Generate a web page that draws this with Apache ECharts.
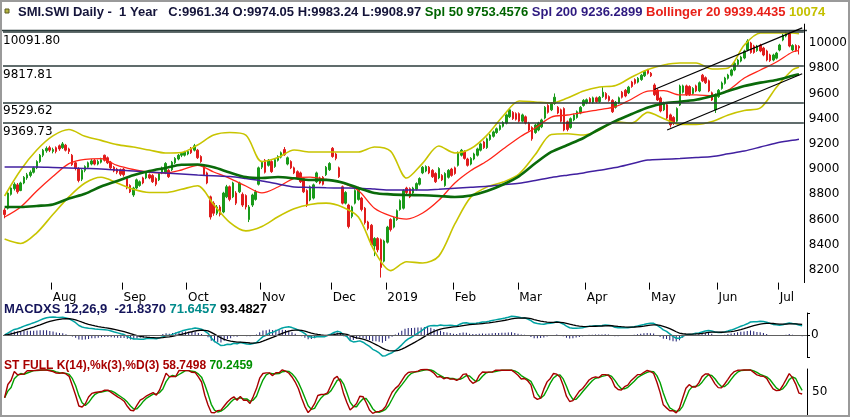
<!DOCTYPE html>
<html lang="en">
<head>
<meta charset="utf-8">
<title>SMI.SWI Daily</title>
<script src="https://cdn.jsdelivr.net/npm/echarts@6/dist/echarts.min.js"></script>
<style>
  html, body { margin: 0; padding: 0; background: #fff; }
  #chart { width: 850px; height: 417px; }
</style>
</head>
<body>
<div id="chart"></div>
<script>
// month labels and trading sessions shown per month (first one is July 2018, unlabeled)
const monthNames = ['', 'Aug', 'Sep', 'Oct', 'Nov', 'Dec', '2019', 'Feb', 'Mar', 'Apr', 'May', 'Jun', 'Jul'];
const monthDays = [15, 22, 20, 23, 22, 17, 21, 20, 21, 20, 21, 19, 7];

// daily candles [open, close, low, high]
const candles = [
  // Jul 2018
  [8675,8640,8610,8690],[8690,8810,8680,8820],[8800,8850,8790,8865],[8845,8880,8830,8895],[8875,8820,8805,8890],
  [8830,8890,8825,8900],[8890,8935,8880,8945],[8930,8955,8915,8970],[8950,8975,8935,8990],[8975,9010,8965,9020],
  [9010,9060,9000,9070],[9060,9110,9050,9120],[9110,9150,9095,9160],[9145,9165,9130,9180],[9170,9150,9135,9185],
  // Aug
  [9140,9155,9125,9170],[9170,9140,9125,9180],[9185,9160,9145,9195],[9170,9200,9160,9215],[9190,9150,9140,9200],
  [9160,9140,9120,9170],[9110,9035,9025,9120],[9050,9010,8990,9060],[9005,8910,8895,9015],[8920,8990,8905,9000],
  [8990,9020,8975,9030],[9015,9050,9005,9060],[9040,9065,9030,9080],[9070,9040,9030,9080],[9040,9060,9030,9075],
  [9055,9075,9045,9090],[9110,9070,9060,9115],[9090,9050,9040,9100],[9055,9010,9000,9065],[9015,8985,8975,9025],
  [9000,8975,8960,9010],[8995,8960,8945,9005],
  // Sep
  [9000,8955,8940,9010],[8925,8850,8840,8935],[8870,8820,8810,8880],[8795,8850,8780,8860],[8850,8915,8840,8925],
  [8870,8900,8860,8910],[8930,8890,8880,8940],[8930,8970,8920,8980],[8955,8930,8920,8965],[8950,8900,8890,8960],
  [8925,8880,8865,8935],[8915,8965,8905,8975],[8970,9010,8960,9020],[8970,9045,8960,9055],[8990,8940,8930,9000],
  [8995,9055,8985,9065],[9050,9085,9040,9095],[9080,9110,9070,9120],[9110,9125,9095,9135],[9110,9135,9100,9145],
  // Oct
  [9120,9140,9110,9150],[9165,9130,9120,9175],[9150,9185,9140,9200],[9150,9090,9080,9160],[9100,9060,9050,9110],
  [9030,8955,8945,9040],[8970,8890,8880,8980],[8780,8620,8600,8790],[8730,8650,8630,8745],[8650,8700,8635,8715],
  [8700,8640,8625,8715],[8660,8810,8650,8820],[8780,8860,8770,8875],[8860,8760,8745,8870],[8780,8890,8770,8900],
  [8810,8730,8715,8825],[8820,8890,8810,8900],[8800,8715,8700,8815],[8790,8700,8680,8800],[8600,8700,8580,8715],
  [8715,8795,8700,8805],[8760,8820,8750,8835],[8880,9010,8870,9020],
  // Nov
  [9015,9055,9000,9065],[9070,8975,8965,9080],[9030,9070,9020,9080],[9060,8980,8970,9070],[9020,9075,9010,9085],
  [9070,9100,9060,9110],[9095,9130,9085,9140],[9155,9115,9105,9175],[9040,9090,9030,9100],[9060,9010,9000,9070],
  [9010,8970,8960,9020],[8980,8930,8920,8990],[8970,8900,8890,8980],[8925,8820,8810,8935],[8830,8715,8700,8840],
  [8755,8860,8745,8870],[8770,8875,8760,8885],[8900,8970,8890,8980],[8930,8890,8880,8940],[8935,8880,8870,8945],
  [8955,9015,8945,9025],[8995,9045,8985,9055],
  // Dec
  [9165,9100,9090,9175],[9120,9085,9070,9130],[9010,8940,8930,9020],[8860,8730,8720,8870],[8730,8815,8720,8825],
  [8715,8545,8530,8725],[8625,8700,8610,8710],[8730,8830,8720,8840],[8760,8850,8750,8860],[8770,8680,8665,8780],
  [8690,8575,8560,8700],[8580,8530,8515,8590],[8555,8400,8390,8565],[8390,8450,8310,8460],[8450,8360,8340,8460],
  [8440,8220,8140,8450],[8270,8430,8260,8440],
  // Jan 2019
  [8420,8540,8410,8550],[8600,8520,8505,8610],[8540,8610,8530,8620],[8600,8670,8590,8680],[8680,8750,8670,8760],
  [8690,8830,8680,8840],[8850,8815,8800,8860],[8845,8780,8770,8855],[8810,8850,8800,8860],[8840,8885,8830,8895],
  [8880,8925,8870,8935],[8970,9015,8960,9025],[8985,9020,8975,9030],[9015,8970,8960,9025],[8990,8940,8930,9000],
  [8965,8900,8890,8975],[8930,9005,8920,9015],[8950,8915,8905,8960],[8870,8965,8860,8975],[8935,8990,8925,9000],
  [9000,8950,8940,9010],
  // Feb
  [9010,8965,8955,9020],[9030,9130,9020,9140],[9110,9150,9100,9160],[9140,9085,9075,9150],[9080,9030,9020,9090],
  [9040,9085,9030,9095],[9080,9120,9070,9130],[9110,9160,9100,9170],[9150,9200,9140,9210],[9215,9170,9160,9225],
  [9170,9240,9160,9250],[9235,9270,9225,9280],[9260,9295,9250,9305],[9290,9320,9280,9330],[9315,9345,9305,9355],
  [9340,9370,9330,9380],[9365,9430,9355,9440],[9415,9470,9405,9480],[9450,9400,9390,9460],[9440,9395,9385,9450],
  // Mar
  [9440,9380,9370,9450],[9380,9430,9370,9440],[9415,9365,9355,9425],[9365,9310,9300,9375],[9330,9240,9225,9340],
  [9290,9350,9280,9360],[9310,9365,9300,9375],[9335,9390,9325,9400],[9405,9490,9395,9500],[9505,9450,9440,9515],
  [9470,9520,9460,9530],[9520,9570,9510,9600],[9490,9445,9435,9500],[9470,9380,9370,9480],[9480,9310,9300,9490],
  [9375,9315,9300,9385],[9330,9400,9320,9410],[9390,9430,9380,9440],[9410,9455,9400,9465],[9445,9490,9435,9500],
  [9505,9545,9495,9555],
  // Apr
  [9525,9550,9515,9560],[9560,9530,9520,9570],[9530,9565,9520,9575],[9565,9535,9525,9575],[9535,9570,9525,9580],
  [9575,9610,9565,9650],[9600,9560,9550,9610],[9575,9545,9535,9585],[9545,9455,9445,9555],[9490,9530,9480,9540],
  [9525,9565,9515,9575],[9610,9570,9560,9620],[9625,9580,9570,9635],[9605,9650,9595,9660],[9690,9655,9645,9700],
  [9710,9680,9670,9720],[9690,9720,9680,9730],[9710,9745,9700,9755],[9740,9775,9730,9785],[9785,9760,9750,9795],
  // May
  [9760,9740,9730,9770],[9667,9590,9580,9680],[9627,9548,9540,9640],[9564,9461,9450,9575],[9470,9525,9460,9535],
  [9510,9405,9395,9520],[9430,9350,9330,9440],[9410,9365,9350,9420],[9380,9480,9370,9490],[9508,9659,9500,9670],
  [9610,9660,9600,9670],[9660,9590,9580,9670],[9655,9590,9580,9665],[9600,9640,9590,9650],[9660,9620,9610,9670],
  [9620,9685,9610,9695],[9745,9700,9690,9755],[9725,9685,9675,9735],[9700,9620,9610,9710],[9605,9548,9540,9615],
  [9470,9590,9445,9600],
  // Jun
  [9575,9625,9565,9635],[9640,9683,9630,9695],[9680,9722,9670,9732],[9720,9746,9710,9756],[9745,9786,9735,9796],
  [9786,9840,9776,9850],[9830,9865,9820,9875],[9857,9889,9847,9899],[9881,9937,9871,9947],[9945,10016,9935,10030],
  [10000,9925,9915,10010],[9976,9925,9915,9986],[9940,9975,9930,9985],[9984,9937,9927,9994],[9960,9905,9895,9970],
  [9937,9865,9855,9947],[9905,9860,9850,9915],[9865,9905,9855,9915],[9880,9920,9870,9930],
  // Jul
  [9944,9984,9934,9994],[10024,10063,10014,10073],[10055,10079,10045,10089],[10079,9976,9966,10092],
  [9945,9980,9935,9990],[9980,9940,9930,9990],[9974,9961,9909,9983]
];

// overlay lines every 5 sessions
const lineIdx = [0,5,10,15,20,25,30,35,40,45,50,55,60,65,70,75,80,85,90,95,
  100,105,110,115,120,125,130,135,140,145,150,155,160,165,170,175,180,185,190,195,
  200,205,210,215,220,225,230,235,240,245,247];
const sma20 = [8620,8700,8826,8941,9044,9078,9083,9029,8997,8975,
  8969,8993,9030,8977,8927,8866,8811,8858,8926,8937,
  8918,8891,8830,8690,8630,8604,8652,8753,8890,8989,
  9064,9159,9251,9326,9413,9429,9451,9472,9496,9556,
  9619,9622,9588,9588,9580,9627,9722,9786,9849,9929,9939];
const bbUpper = [8787,8993,9151,9263,9314,9260,9228,9194,9175,9151,
  9128,9132,9191,9270,9290,9270,9060,9092,9151,9136,
  9136,9136,9136,9175,9143,8929,9048,9183,9128,9163,
  9270,9421,9540,9532,9524,9564,9619,9651,9663,9730,
  9790,9826,9841,9841,9794,9802,9984,10079,10079,10079,10074];
const bbLower = [8445,8410,8495,8640,8780,8890,8935,8890,8840,8815,
  8815,8840,8868,8720,8578,8510,8545,8622,8685,8720,
  8730,8700,8620,8350,8195,8265,8255,8310,8565,8780,
  8858,8897,8962,9115,9275,9280,9270,9310,9375,9365,
  9450,9400,9355,9355,9378,9430,9465,9485,9650,9788,9808];
const sma50 = [8700,8700,8708,8720,8767,8804,8862,8906,8951,8985,
  9009,9034,9036,9014,8973,8937,8929,8937,8927,8914,
  8915,8894,8850,8811,8800,8795,8793,8787,8779,8791,
  8826,8878,8945,9046,9136,9191,9247,9318,9382,9437,
  9489,9523,9534,9550,9580,9619,9659,9686,9707,9740,9753];
const sma200 = [9017,9017,9017,9013,9009,9005,9001,8993,8985,8977,
  8969,8961,8953,8947,8941,8925,8906,8882,8858,8855,
  8852,8850,8849,8842,8834,8834,8834,8840,8848,8856,
  8864,8876,8888,8910,8933,8952,8970,8991,9012,9042,
  9072,9078,9084,9092,9100,9122,9144,9175,9207,9228,9236];

// horizontal support / resistance levels
const levels = [10091.80, 9817.81, 9529.62, 9369.73];
// channel lines [startIndex, startPrice, endIndex, endPrice]
const channelUpper = [202, 9631, 248, 10120];
const channelLower = [206, 9310, 248, 9756];

const FONT = 'DejaVu Sans';
const TFONT = 'Liberation Sans';
const PRICE_MIN = 8100;

// category axis: one entry per session plus one blank slot on the right
let days = [];
let monthStart = {};
let n = 0;
monthDays.forEach((cnt, m) => {
  if (m > 0) monthStart[n] = monthNames[m];
  for (let d = 0; d < cnt; d++) { days.push(m + '-' + d); n++; }
});
days.push('pad');
const isMonthStart = i => Object.prototype.hasOwnProperty.call(monthStart, i);
const monthStartIdx = Object.keys(monthStart).map(Number);

// indicators
const closes = candles.map(c => c[1]);
function ema(src, len) {
  const k = 2 / (len + 1);
  let out = [];
  src.forEach((v, i) => { out.push(i === 0 ? v : v * k + out[i - 1] * (1 - k)); });
  return out;
}
function sma(src, len) {
  return src.map((v, i) => {
    const s = src.slice(Math.max(0, i - len + 1), i + 1);
    return s.reduce((a, b) => a + b, 0) / s.length;
  });
}
const ema12 = ema(closes, 12);
const ema26 = ema(closes, 26);
const macd = closes.map((c, i) => ema12[i] - ema26[i]);
const signal = ema(macd, 9);
const hist = macd.map((v, i) => v - signal[i]);
const macdRange = Math.ceil(Math.max(...macd.map(Math.abs), ...signal.map(Math.abs)) * 1.05);

const rawK = closes.map((c, i) => {
  let lo = Infinity, hi = -Infinity;
  for (let j = Math.max(0, i - 13); j <= i; j++) {
    lo = Math.min(lo, candles[j][2]);
    hi = Math.max(hi, candles[j][3]);
  }
  return hi > lo ? 100 * (c - lo) / (hi - lo) : 50;
});
const stK = sma(rawK, 3);
const stD = sma(stK, 3);

function overlay(vals, color, width) {
  return {
    type: 'line', xAxisIndex: 0, yAxisIndex: 0,
    data: lineIdx.map((d, k) => [d, vals[k]]),
    smooth: 0.3, symbol: 'none', silent: true, z: 3,
    lineStyle: { color: color, width: width }
  };
}

const levelLine = { color: '#2b3b3b', width: 1.5, type: 'solid' };
const chanLine = { color: '#000', width: 1.2, type: 'solid' };

function rich(color, size) {
  return { color: color, fontSize: size, fontFamily: TFONT, lineHeight: size + 3 };
}

const chart = echarts.init(document.getElementById('chart'));
chart.setOption({
  animation: false,
  backgroundColor: '#fff',
  textStyle: { fontFamily: FONT },
  title: [
    {
      left: 18, top: 4, padding: 0,
      text: '{a|SMI.SWI Daily -  1 Year   C:9961.34 O:9974.05 H:9983.24 L:9908.97 }{g|Spl 50 9753.4576 }{p|Spl 200 9236.2899 }{r|Bollinger 20 9939.4435 }{y|10074}',
      textStyle: { rich: {
        a: rich('#14143a', 13), g: rich('#006400', 13), p: rich('#2e1a80', 13),
        r: rich('#e82018', 13), y: rich('#c4c000', 13)
      } }
    },
    {
      left: 4, top: 301, padding: 0,
      text: '{n|MACDXS 12,26,9  -21.8370 }{t|71.6457 }{k|93.4827}',
      textStyle: { rich: { n: rich('#14145a', 13), t: rich('#008b8b', 13), k: rich('#000', 13) } }
    },
    {
      left: 4, top: 358, padding: 0,
      text: '{r|ST FULL K(14),%k(3),%D(3) 58.7498 }{g|70.2459}',
      textStyle: { rich: { r: rich('#a80000', 12), g: rich('#009000', 12) } }
    }
  ],
  graphic: [
    { type: 'rect', silent: true, z: 100, shape: { x: 1, y: 1, width: 848, height: 415 },
      style: { fill: 'none', stroke: '#9a9a9a', lineWidth: 2 } },
    { type: 'line', silent: true, shape: { x1: 2, y1: 30.5, x2: 807, y2: 30.5 },
      style: { stroke: '#2b3b3b', lineWidth: 1.5 } },
    { type: 'rect', silent: true, shape: { x: 5, y: 9, width: 4, height: 4 },
      style: { fill: '#b4b440', stroke: '#5a5a20', lineWidth: 1 } }
  ],
  grid: [
    { left: 3, right: 43, top: 24.1, height: 258.5 },
    { left: 3, right: 43, top: 313, height: 44 },
    { left: 3, right: 43, top: 369, height: 46 }
  ],
  xAxis: [
    {
      type: 'category', gridIndex: 0, data: days, boundaryGap: true,
      axisLine: { show: false },
      axisTick: { show: false },
      axisLabel: {
        interval: isMonthStart,
        formatter: (v, i) => monthStart[i] || '',
        align: 'left', color: '#000', fontSize: 12, fontFamily: FONT, margin: 9
      },
      splitLine: { show: false }
    },
    { type: 'category', gridIndex: 1, data: days, show: false },
    { type: 'category', gridIndex: 2, data: days, show: false }
  ],
  yAxis: [
    {
      type: 'value', gridIndex: 0, position: 'right', min: PRICE_MIN, max: 10150, interval: 100,
      axisLine: { show: true, lineStyle: { color: '#000', width: 1 } },
      axisTick: { show: false }, splitLine: { show: false },
      axisLabel: { formatter: v => (v % 200 === 0 ? String(v) : ''), color: '#000', fontSize: 12, fontFamily: FONT, margin: 5 }
    },
    {
      type: 'value', gridIndex: 1, position: 'right', min: -macdRange, max: macdRange, interval: macdRange,
      axisLine: { show: true, lineStyle: { color: '#000', width: 1 } },
      axisTick: { show: true, length: 3, lineStyle: { color: '#000' } }, splitLine: { show: false },
      axisLabel: { formatter: v => (v === 0 ? '0' : ''), color: '#000', fontSize: 12, fontFamily: FONT, margin: 4 }
    },
    {
      type: 'value', gridIndex: 2, position: 'right', min: 0, max: 100, interval: 50,
      axisLine: { show: true, lineStyle: { color: '#000', width: 1 } },
      axisTick: { show: false }, splitLine: { show: false },
      axisLabel: { formatter: v => (v === 50 ? '50' : ''), color: '#000', fontSize: 12, fontFamily: FONT, margin: 5 }
    }
  ],
  series: [
    {
      type: 'candlestick', xAxisIndex: 0, yAxisIndex: 0, data: candles, barWidth: 2,
      itemStyle: { color: '#1a9a1a', color0: '#e01c1c', borderColor: '#1a9a1a', borderColor0: '#e01c1c', borderWidth: 1 },
      markLine: {
        symbol: 'none', silent: true, animation: false,
        data: levels.map(v => ({
          yAxis: v, lineStyle: levelLine,
          label: { show: true, position: 'insideStartBottom', formatter: p => p.value.toFixed(2),
                   color: '#000', fontSize: 12, fontFamily: FONT, distance: [0, 3] }
        })).concat([
          [{ coord: [days[channelUpper[0]], channelUpper[1]], lineStyle: chanLine, label: { show: false } },
           { coord: [days[channelUpper[2]], channelUpper[3]] }],
          [{ coord: [days[channelLower[0]], channelLower[1]], lineStyle: chanLine, label: { show: false } },
           { coord: [days[channelLower[2]], channelLower[3]] }]
        ])
      }
    },
    overlay(bbUpper, '#c8c400', 1.6),
    overlay(bbLower, '#c8c400', 1.6),
    overlay(sma20, '#ff2418', 1.3),
    overlay(sma200, '#4120a0', 1.5),
    overlay(sma50, '#0a6a0a', 2.6),
    // month tick marks hanging below the price panel, at the left edge of each month's first session
    {
      type: 'custom', xAxisIndex: 0, yAxisIndex: 0, silent: true, clip: false, z: 10,
      data: monthStartIdx.map(i => [i, PRICE_MIN]),
      renderItem: (params, api) => {
        const p = api.coord([api.value(0), api.value(1)]);
        const band = api.size([1, 0])[0];
        const x = Math.round(p[0] - band / 2) + 0.5;
        return { type: 'line', shape: { x1: x, y1: p[1], x2: x, y2: p[1] + 7 },
                 style: { stroke: '#000', lineWidth: 1 } };
      }
    },
    {
      type: 'bar', xAxisIndex: 1, yAxisIndex: 1, data: hist, barWidth: 1, silent: true,
      itemStyle: { color: '#1c1c70' },
      markLine: { symbol: 'none', silent: true, label: { show: false },
                  data: [{ yAxis: 0 }], lineStyle: { color: '#606060', width: 1, type: 'solid' } }
    },
    { type: 'line', xAxisIndex: 1, yAxisIndex: 1, data: macd, symbol: 'none', silent: true,
      lineStyle: { color: '#00a2a2', width: 1.5 } },
    { type: 'line', xAxisIndex: 1, yAxisIndex: 1, data: signal, symbol: 'none', silent: true,
      lineStyle: { color: '#000', width: 1.3 } },
    { type: 'line', xAxisIndex: 2, yAxisIndex: 2, data: stD, symbol: 'none', silent: true,
      lineStyle: { color: '#00a000', width: 1.4 } },
    { type: 'line', xAxisIndex: 2, yAxisIndex: 2, data: stK, symbol: 'none', silent: true,
      lineStyle: { color: '#a80000', width: 1.4 } }
  ]
});
</script>
</body>
</html>
